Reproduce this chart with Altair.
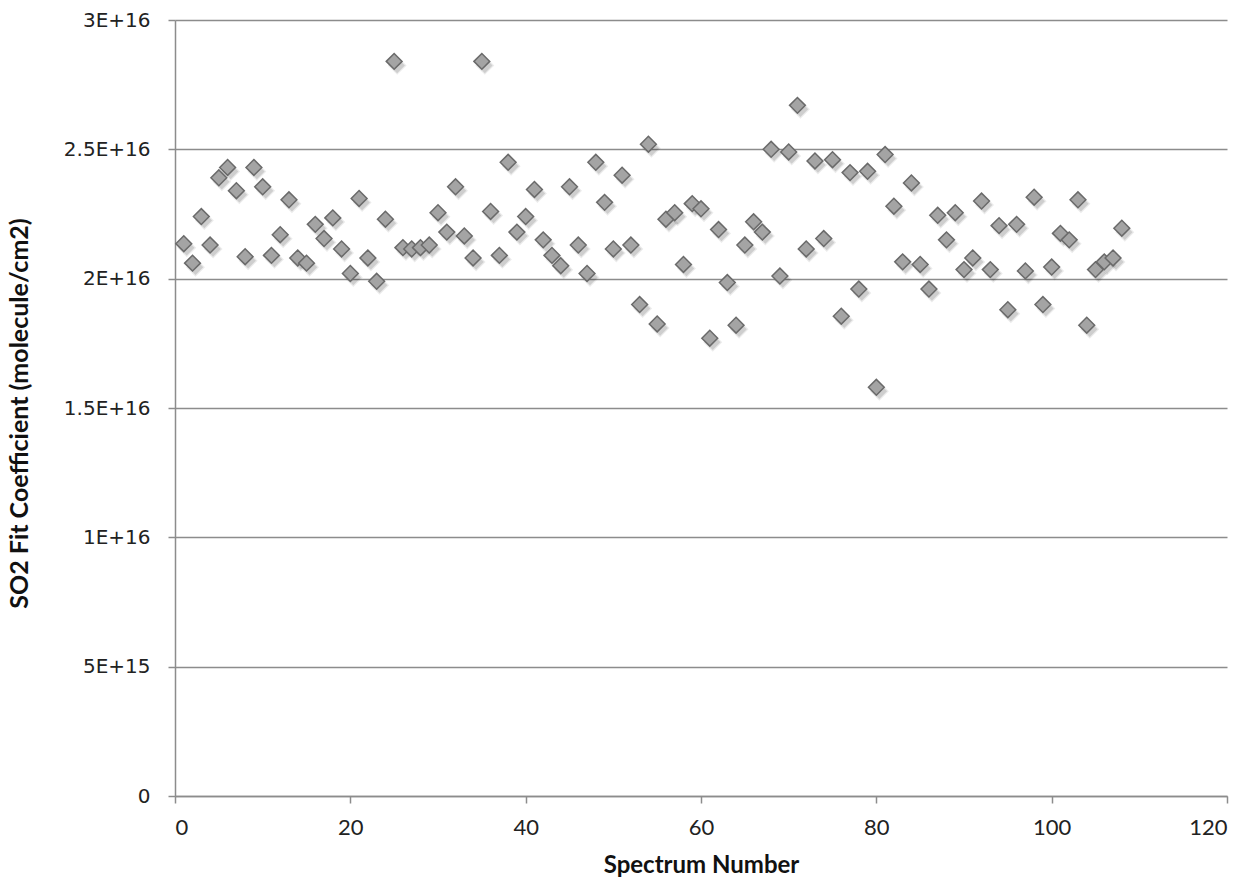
import altair as alt
import pandas as pd

spectrum = list(range(1, 109))
so2_e16 = [
    2.135, 2.06, 2.24, 2.13, 2.39, 2.43, 2.34, 2.085, 2.43, 2.355,
    2.09, 2.17, 2.305, 2.08, 2.06, 2.21, 2.155, 2.235, 2.115, 2.02,
    2.31, 2.08, 1.99, 2.23, 2.84, 2.12, 2.115, 2.12, 2.13, 2.255,
    2.18, 2.355, 2.165, 2.08, 2.84, 2.26, 2.09, 2.45, 2.18, 2.24,
    2.345, 2.15, 2.09, 2.05, 2.355, 2.13, 2.02, 2.45, 2.295, 2.115,
    2.40, 2.13, 1.90, 2.52, 1.825, 2.23, 2.255, 2.055, 2.29, 2.27,
    1.77, 2.19, 1.985, 1.82, 2.13, 2.22, 2.18, 2.50, 2.01, 2.49,
    2.67, 2.115, 2.455, 2.155, 2.46, 1.855, 2.41, 1.96, 2.415, 1.58,
    2.48, 2.28, 2.065, 2.37, 2.055, 1.96, 2.245, 2.15, 2.255, 2.035,
    2.08, 2.30, 2.035, 2.205, 1.88, 2.21, 2.03, 2.315, 1.90, 2.045,
    2.175, 2.15, 2.305, 1.82, 2.035, 2.065, 2.08, 2.195,
]
so2 = [v * 1e16 for v in so2_e16]

y_ticks = [0, 5e15, 1e16, 1.5e16, 2e16, 2.5e16, 3e16]
y_tick_labels = ["0", "5E+15", "1E+16", "1.5E+16", "2E+16", "2.5E+16", "3E+16"]
x_ticks = [0, 20, 40, 60, 80, 100, 120]

df = pd.DataFrame({"n": spectrum, "v": so2})

label_expr = " : ".join(
    f"datum.value == {t:.0f} ? '{l}'" for t, l in zip(y_ticks[:-1], y_tick_labels[:-1])
) + f" : '{y_tick_labels[-1]}'"

x_enc = alt.X(
    "n:Q",
    scale=alt.Scale(domain=[0, 120], nice=False),
    axis=alt.Axis(
        values=x_ticks, title="Spectrum Number", grid=False,
        labelFont="Lato", labelFontSize=22, labelColor="#222",
        titleFont="Lato", titleFontSize=24, titleFontWeight="bold", titleColor="#111",
        domainColor="#8c8c8c", domainWidth=1.5, tickColor="#8c8c8c", tickWidth=1.5,
        tickSize=7, labelPadding=14, titlePadding=15,
    ),
)
y_enc = alt.Y(
    "v:Q",
    scale=alt.Scale(domain=[0, 3e16], nice=False),
    axis=alt.Axis(
        values=y_ticks, labelExpr=label_expr, title="SO2 Fit Coefficient (molecule/cm2)",
        grid=True, gridColor="#8c8c8c", gridWidth=1.5,
        labelFont="DejaVu Sans", labelFontSize=20, labelColor="#222",
        titleFont="Lato", titleFontSize=25, titleFontWeight="bold", titleColor="#111",
        titleX=-143, titleY=393,
        domainColor="#8c8c8c", domainWidth=1.5, tickColor="#8c8c8c", tickWidth=1.5,
        tickSize=7, labelPadding=18,
    ),
)

base = alt.Chart(df)

shadow1 = base.mark_point(shape="diamond", filled=True, color="#000", opacity=0.08, size=360, xOffset=3, yOffset=4).encode(x=x_enc, y=y_enc)
shadow2 = base.mark_point(shape="diamond", filled=True, color="#000", opacity=0.12, size=240, xOffset=3, yOffset=4).encode(x=x_enc, y=y_enc)
pts = base.mark_point(shape="diamond", filled=True, fill="#a4a4a4", stroke="#6a6a6a", strokeWidth=1.5, opacity=1, size=250).encode(x=x_enc, y=y_enc)

chart = alt.layer(shadow1, shadow2, pts).properties(
    width=1052, height=776,
    autosize=alt.AutoSizeParams(type="none"),
    padding={"left": 175, "top": 20, "right": 25, "bottom": 84},
).configure_view(stroke=None)

chart.save("out.html", embed_options={"renderer": "svg", "actions": False})
